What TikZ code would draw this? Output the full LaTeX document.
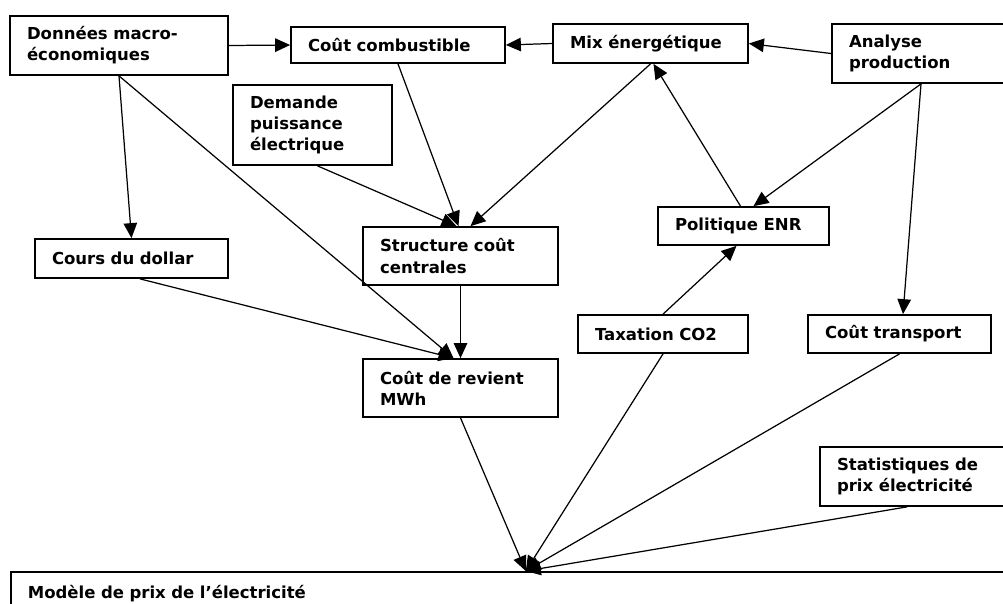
\documentclass[tikz,border=0pt]{standalone}
\usepackage{fontspec}
\setmainfont{DejaVu Sans}
\usetikzlibrary{arrows.meta}

\begin{document}
\begin{tikzpicture}[x=0.02cm, y=-0.02cm,
    box/.style={draw, line width=1pt, align=left, inner xsep=0.34cm, inner ysep=0pt,
        font=\bfseries\fontsize{9.4}{12}\selectfont},
    arr/.style={-{Triangle[length=0.3cm,width=0.27cm]}, line width=0.7pt}]
        \useasboundingbox (0,0) rectangle (1003,603);
        \clip (0,0) rectangle (1003,603);

        \node[box, minimum width=4.36cm, minimum height=1.18cm, text width=3.68cm] (data) at (119,45.5) {Données macro-\\économiques};
        \node[box, minimum width=4.28cm, minimum height=0.72cm, text width=3.6cm] (fuel) at (398,45) {Coût combustible};
        \node[box, minimum width=3.9cm, minimum height=0.78cm, text width=3.22cm] (mix) at (650.5,43.5) {Mix énergétique};
        \node[box, minimum width=3.56cm, minimum height=1.18cm, text width=2.88cm] (prod) at (921,53.5) {Analyse\\production};
        \node[box, minimum width=3.18cm, minimum height=1.6cm, text width=2.5cm] (demand) at (312.5,125) {Demande\\puissance\\électrique};
        \node[box, minimum width=3.86cm, minimum height=0.78cm, text width=3.18cm] (dollar) at (131.5,258.5) {Cours du dollar};
        \node[box, minimum width=3.9cm, minimum height=1.16cm, text width=3.22cm] (plants) at (460.5,256) {Structure coût\\centrales};
        \node[box, minimum width=3.9cm, minimum height=1.16cm, text width=3.22cm] (cost) at (460.5,388) {Coût de revient\\MWh};
        \node[box, minimum width=3.42cm, minimum height=0.76cm, text width=2.74cm] (enr) at (743.5,226) {Politique ENR};
        \node[box, minimum width=3.4cm, minimum height=0.76cm, text width=2.72cm] (tax) at (663,334) {Taxation CO2};
        \node[box, minimum width=3.66cm, minimum height=0.76cm, text width=2.98cm] (grid) at (899.5,334) {Coût transport};
        \node[box, minimum width=4cm, minimum height=1.18cm, text width=3.32cm] (stats) at (920,476.5) {Statistiques de\\prix électricité};
        \node[box, anchor=north west, minimum width=20.2cm, minimum height=0.88cm, text width=19.52cm] (model) at (10,571) {Modèle de prix de l’électricité};

        \draw[arr] (data.east) -- (fuel.west);
        \draw[arr] (mix.west) -- (fuel.east);
        \draw[arr] (prod.west) -- (mix.east);
        \draw[arr] (data.south) -- (dollar.north);
        \draw[arr] (data.south) -- ([xshift=-0.14cm]cost.north);
        \draw[arr] ([xshift=0.17cm]dollar.south) -- ([xshift=-0.14cm]cost.north);
        \draw[arr] (fuel.south) -- ([xshift=-0.04cm]plants.north);
        \draw[arr] ([xshift=0.1cm]demand.south) -- ([xshift=-0.08cm]plants.north);
        \draw[arr] (mix.south) -- ([xshift=0.2cm]plants.north);
        \draw[arr] (plants.south) -- (cost.north);
        \draw[arr] ([xshift=-0.06cm]enr.north) -- ([xshift=0.06cm]mix.south);
        \draw[arr] (prod.south) -- ([xshift=0.2cm]enr.north);
        \draw[arr] (prod.south) -- ([xshift=0.07cm]grid.north);
        \draw[arr] (tax.north) -- ([xshift=-0.14cm]enr.south);

        % everything ends on the model
        \draw[arr] (cost.south) -- ([xshift=0.2cm]model.north);
        \draw[arr] (tax.south) -- ([xshift=0.2cm]model.north);
        \draw[arr] (grid.south) -- ([xshift=0.2cm]model.north);
        \draw[arr] ([xshift=-0.26cm]stats.south) -- ([xshift=0.2cm]model.north);
    \end{tikzpicture}
\end{document}
